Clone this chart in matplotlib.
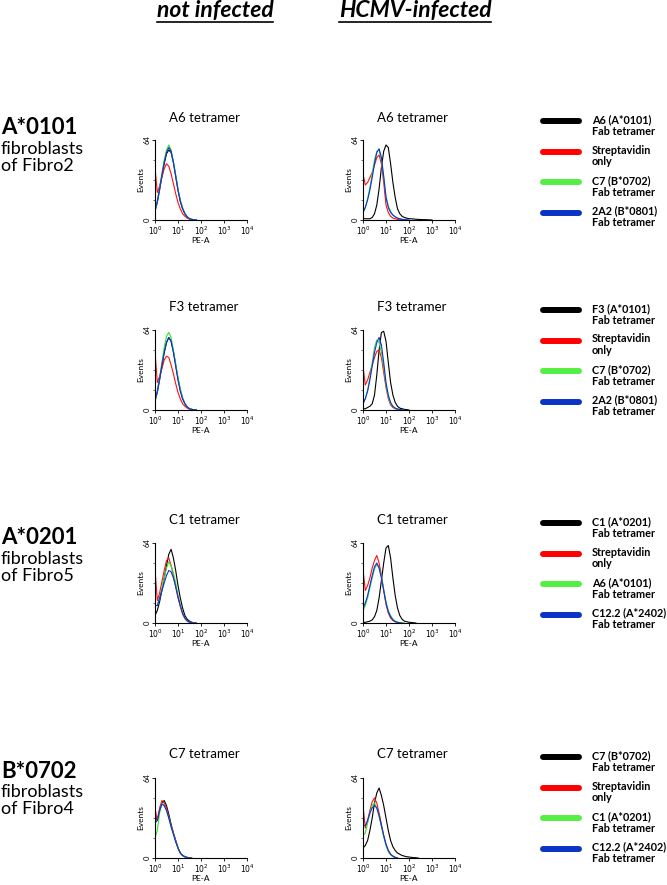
import numpy as np
import matplotlib
matplotlib.use("Agg")
from matplotlib import pyplot as plt
from matplotlib.lines import Line2D

plt.rcParams['font.family'] = ['Lato', 'DejaVu Sans']

# histogram counts, one value per 0.1 decade starting at 10^0
# row 1: A6 tetramer
a6_ni_black = [7, 14, 24, 35, 45, 53, 56, 54, 46, 35, 24, 15, 9, 5, 2.5, 1, 0.5, 0.2, 0]
a6_ni_red = [42, 22, 27, 34, 41, 45, 43, 37, 29, 21, 14, 9, 5, 3, 1.5, 0.6, 0.2, 0]
a6_ni_green = [7, 15, 26, 37, 48, 56, 60, 56, 47, 36, 25, 16, 10, 5, 2.5, 1.2, 0.5, 0.2, 0]
a6_ni_blue = [8, 15, 25, 36, 46, 54, 58, 55, 46, 35, 24, 15, 9, 5, 2.5, 1, 0.5, 0.2, 0]
a6_in_black = [1, 1, 1, 1, 2, 5, 12, 25, 42, 55, 60, 58, 45, 30, 18, 9, 5, 3, 2, 1.5, 1, 1, 0.8, 0.6, 0.5, 0.4, 0.3, 0.3, 0.2, 0.1, 0]
a6_in_red = [37, 28, 30, 34, 38, 44, 50, 52, 45, 30, 12, 6, 3, 1.5, 1, 0.5, 0.2, 0]
a6_in_green = [6, 10, 17, 26, 37, 48, 55, 56, 48, 34, 19, 11, 7, 4, 2.5, 1.5, 1, 0.5, 0.3, 0]
a6_in_blue = [6, 10, 16, 24, 34, 45, 54, 57, 50, 35, 18, 10, 6, 4, 2.5, 1.5, 1, 0.5, 0.3, 0.2, 0]
# row 2: F3 tetramer
f3_ni_black = [7, 14, 24, 35, 46, 54, 58, 55, 47, 36, 25, 16, 9, 5, 2.5, 1, 0.5, 0.2, 0]
f3_ni_red = [47, 22, 27, 33, 40, 43, 42, 36, 29, 21, 14, 9, 5, 3, 1.5, 0.6, 0.2, 0]
f3_ni_green = [7, 15, 26, 38, 50, 59, 62, 58, 48, 37, 26, 17, 10, 5, 2.5, 1.2, 0.5, 0.2, 0]
f3_ni_blue = [8, 15, 25, 36, 46, 54, 58, 55, 46, 35, 24, 15, 9, 5, 2.5, 1, 0.5, 0.2, 0]
f3_in_black = [1, 1, 2, 3, 5, 12, 28, 48, 62, 63, 55, 38, 22, 12, 6, 3, 1.5, 1, 0.5, 0.3, 0]
f3_in_red = [35, 20, 24, 30, 36, 42, 47, 48, 42, 30, 18, 9, 4, 2, 1, 0.5, 0]
f3_in_green = [5, 9, 16, 26, 38, 50, 56, 54, 46, 34, 20, 10, 5, 2.5, 1.2, 0.6, 0.3, 0]
f3_in_blue = [5, 9, 15, 24, 35, 46, 54, 58, 52, 38, 22, 12, 6, 3, 1.5, 0.8, 0.4, 0.2, 0]
# row 3: C1 tetramer
c1_ni_black = [6, 10, 17, 26, 36, 46, 55, 59, 52, 42, 30, 20, 12, 6, 3, 1.5, 0.6, 0.2, 0]
c1_ni_red = [43, 18, 24, 33, 42, 50, 52, 46, 38, 29, 20, 13, 7, 3.5, 1.5, 0.6, 0.2, 0]
c1_ni_green = [14, 14, 20, 28, 36, 44, 49, 46, 40, 32, 22, 14, 8, 4, 1.8, 0.7, 0.2, 0]
c1_ni_blue = [14, 14, 20, 26, 32, 38, 42, 41, 36, 29, 21, 14, 8, 4, 1.8, 0.7, 0.2, 0]
c1_in_black = [0.5, 0.5, 1, 1.5, 2.5, 5, 10, 20, 34, 48, 60, 62, 52, 36, 22, 12, 6, 3, 1.5, 1, 0.6, 0.4, 0.2, 0]
c1_in_red = [43, 26, 30, 36, 44, 50, 54, 48, 38, 26, 15, 8, 4, 2, 1, 0.5, 0]
c1_in_green = [10, 14, 20, 28, 36, 43, 47, 44, 37, 27, 17, 10, 6, 3, 1.5, 0.8, 0.4, 0.2, 0]
c1_in_blue = [12, 16, 22, 30, 38, 45, 48, 44, 36, 26, 16, 9, 5, 2.5, 1.2, 0.5, 0.2, 0]
# row 4: C7 tetramer
c7_ni_black = [34, 30, 38, 44, 46, 42, 35, 27, 20, 14, 8, 4, 2, 1, 0.5, 0.2, 0]
c7_ni_red = [40, 30, 40, 46, 44, 40, 33, 26, 20, 14, 8, 4, 2, 1, 0.4, 0]
c7_ni_green = [16, 22, 36, 44, 42, 38, 32, 25, 19, 13, 8, 4, 2, 1, 0.4, 0]
c7_ni_blue = [28, 30, 38, 43, 42, 38, 32, 25, 19, 13, 8, 4, 2, 1, 0.4, 0]
c7_in_black = [8, 10, 14, 22, 32, 44, 52, 56, 50, 42, 32, 22, 14, 9, 6, 4, 3, 2, 1.5, 1, 0.8, 0.5, 0.3, 0.2, 0]
c7_in_red = [42, 24, 30, 38, 45, 48, 44, 36, 27, 18, 11, 6, 3, 1.5, 0.5, 0]
c7_in_green = [18, 20, 28, 36, 42, 44, 40, 33, 25, 17, 10, 5, 2.5, 1, 0.4, 0]
c7_in_blue = [26, 26, 30, 36, 40, 42, 40, 34, 26, 18, 11, 6, 3, 1.5, 0.5, 0]

panel_titles = ["A6 tetramer", "F3 tetramer", "C1 tetramer", "C7 tetramer"]
row_labels = ["A*0101", None, "A*0201", "B*0702"]
row_sublabels = ["fibroblasts\nof Fibro2", None, "fibroblasts\nof Fibro5", "fibroblasts\nof Fibro4"]
legend_labels = [
    ["A6 (A*0101)\nFab tetramer", "Streptavidin\nonly", "C7 (B*0702)\nFab tetramer", "2A2 (B*0801)\nFab tetramer"],
    ["F3 (A*0101)\nFab tetramer", "Streptavidin\nonly", "C7 (B*0702)\nFab tetramer", "2A2 (B*0801)\nFab tetramer"],
    ["C1 (A*0201)\nFab tetramer", "Streptavidin\nonly", "A6 (A*0101)\nFab tetramer", "C12.2 (A*2402)\nFab tetramer"],
    ["C7 (B*0702)\nFab tetramer", "Streptavidin\nonly", "C1 (A*0201)\nFab tetramer", "C12.2 (A*2402)\nFab tetramer"],
]
curves = [
    [[a6_ni_black, a6_ni_red, a6_ni_green, a6_ni_blue], [a6_in_black, a6_in_red, a6_in_green, a6_in_blue]],
    [[f3_ni_black, f3_ni_red, f3_ni_green, f3_ni_blue], [f3_in_black, f3_in_red, f3_in_green, f3_in_blue]],
    [[c1_ni_black, c1_ni_red, c1_ni_green, c1_ni_blue], [c1_in_black, c1_in_red, c1_in_green, c1_in_blue]],
    [[c7_ni_black, c7_ni_red, c7_ni_green, c7_ni_blue], [c7_in_black, c7_in_red, c7_in_green, c7_in_blue]],
]

line_colors = ["#000000", "#ff1010", "#30e030", "#1030e0"]
bar_colors = ["#000000", "#ff0000", "#55ee44", "#0a34c4"]

W, H = 667, 885
fig = plt.figure(figsize=(W / 100, H / 100), dpi=100)

def fx(px):
    return px / W

def fy(py):
    return 1 - py / H

col_left = [155, 363]
ax_w = 92
row_bottom = [220, 410, 623, 858]
ax_h = 80
title_y = [118, 307, 520, 754]
label_y = [128, None, 538, 771]

for r in range(4):
    for c in range(2):
        ax = fig.add_axes([fx(col_left[c]), fy(row_bottom[r]), fx(ax_w), ax_h / H])
        for k, vals in enumerate(curves[r][c]):
            xs = 10 ** (np.arange(len(vals)) * 0.1)
            ax.plot(np.concatenate([[1], xs]), np.concatenate([[0], vals]),
                    color=line_colors[k], lw=0.8)
        ax.set_xscale('log')
        ax.set_xlim(1, 1e4)
        ax.set_ylim(0, 64)
        ax.set_xticks([1, 10, 100, 1000, 10000])
        ax.set_xticklabels(['$10^0$', '$10^1$', '$10^2$', '$10^3$', '$10^4$'])
        ax.set_yticks([0, 64])
        ax.set_yticks([16, 32, 48], minor=True)
        ax.set_yticklabels(['0', '64'], rotation=90, va='center')
        ax.tick_params(labelsize=5.5, length=2, width=0.6, pad=1)
        ax.tick_params(which='minor', length=1.2, width=0.4)
        ax.spines['top'].set_visible(False)
        ax.spines['right'].set_visible(False)
        ax.spines['left'].set_linewidth(0.8)
        ax.spines['bottom'].set_linewidth(0.8)
        ax.set_ylabel('Events', fontsize=6, labelpad=0)
        ax.set_xlabel('PE-A', fontsize=6, labelpad=0.5)
        fig.text(fx(col_left[c] + ax_w / 2 + 3), fy(title_y[r]), panel_titles[r],
                 fontsize=9.5, ha='center', va='center')

    # legend
    for k in range(4):
        by = title_y[r] + 3 + k * 30.5
        fig.add_artist(Line2D([fx(543), fx(579)], [fy(by), fy(by)], color=bar_colors[k],
                              lw=4.3, solid_capstyle='round'))
        fig.text(fx(592), fy(by - 7), legend_labels[r][k], fontsize=7.8, fontweight='bold',
                 ha='left', va='top', linespacing=1.1)

    if row_labels[r]:
        fig.text(fx(1), fy(label_y[r]), row_labels[r], fontsize=16, fontweight='bold',
                 ha='left', va='center')
        fig.text(fx(1), fy(label_y[r] + 13), row_sublabels[r], fontsize=13,
                 ha='left', va='top', linespacing=1.1)

# column headers, underlined
headers = [("not infected", 215), ("HCMV-infected", 415)]
head_texts = []
for txt, cx in headers:
    t = fig.text(fx(cx), fy(11), txt, fontsize=16.5, fontweight='bold', style='italic',
                 ha='center', va='center')
    head_texts.append(t)
fig.canvas.draw()
rend = fig.canvas.get_renderer()
for t in head_texts:
    bb = t.get_window_extent(rend)
    uy = (bb.y0 - 0.5) / H
    fig.add_artist(Line2D([bb.x0 / W, bb.x1 / W], [uy, uy], color='black', lw=1.2))

fig.savefig('out.png', dpi=100)
